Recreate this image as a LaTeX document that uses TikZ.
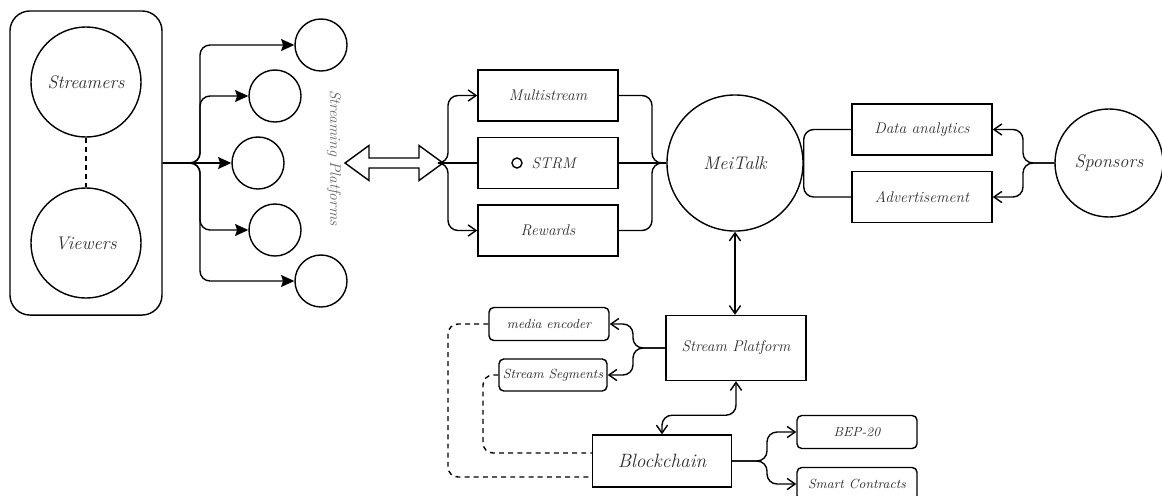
\documentclass[tikz,border=0pt]{standalone}
\usepackage{fontspec}
\usepackage{tikz}
\usetikzlibrary{positioning}
\usetikzlibrary{calc}
\usetikzlibrary{arrows.meta}

\begin{document}
\begin{tikzpicture}[x=0.025cm, y=-0.025cm, line width=1pt,
		every node/.style = {text=black!82},
		groupbox/.style = {draw, rectangle, rounded corners=0.5cm, minimum width=3.8cm, minimum height=7.6cm},
		bigcirc/.style = {draw, circle, inner sep=0pt, minimum size=2.75cm, font=\fontsize{13}{15}\selectfont\itshape},
		platcirc/.style = {draw, circle, inner sep=0pt, minimum size=1.3cm},
		boxnode/.style = {draw, rectangle, inner sep=0pt, minimum width=3.5cm, minimum height=1.275cm, font=\fontsize{11}{13}\selectfont\itshape},
		tagnode/.style = {draw, rectangle, rounded corners=0.12cm, inner sep=0pt, minimum width=3cm, minimum height=0.825cm, font=\fontsize{9.4}{11}\selectfont\itshape},
		fanline/.style = {-{Stealth[length=3.3mm, width=3mm, inset=0.5mm]}, rounded corners=0.25cm},
		flowline/.style = {-{Straight Barb[length=2mm, width=2.8mm]}, rounded corners=0.25cm},
		twoway/.style = {{Straight Barb[length=2mm, width=2.8mm]}-{Straight Barb[length=2mm, width=2.8mm]}, rounded corners=0.25cm},
		joinline/.style = {rounded corners=0.25cm},
		dashline/.style = {dash pattern=on 3.5pt off 3pt, rounded corners=0.25cm}]
		\useasboundingbox (0,0) rectangle (1162,495);
		% users and the platforms
		\node[groupbox] (users) at (86,163) {};
		\node[bigcirc] (streamers) at (86,82) {Streamers};
		\node[bigcirc] (viewers) at (86,243) {Viewers};
		\draw[dashline] (streamers) -- (viewers);
		\foreach \n/\px/\py in {1/321/45, 2/275/96, 3/258/163, 4/275/230, 5/321/281}
			\node[platcirc] (p\n) at (\px,\py) {};
		\foreach \n in {1,2,4,5}
			\draw[fanline] (users.east) -- (200,163) |- (p\n.west);
		\draw[fanline] (users.east) -- (p3.west);
		\node[rotate=-90, text=black!60, font=\fontsize{11}{13}\selectfont\itshape] (platlabel) at (334,158) {Streaming Platforms};
		% hollow double arrow
		\coordinate (la) at (345,163);
		\coordinate (ra) at (443,163);
		\draw[fill=white] (la) -- ++(24,-17.5) -- ++(0,12.5) -- ++(50,0) -- ++(0,-12.5) -- (ra)
			-- ++(-24,17.5) -- ++(0,-12.5) -- ++(-50,0) -- ++(0,12.5) -- cycle;
		% token boxes
		\node[boxnode] (multi) at (548,95.5) {Multistream};
		\node[boxnode] (strm) at (548,163) {\hspace{8pt}STRM};
		\node[boxnode] (rewards) at (548,230.5) {Rewards};
		\node[draw, circle, inner sep=0pt, minimum size=0.25cm] (coin) at (517,163) {};
		\draw[flowline] (ra) -- (448,163) |- (multi.west);
		\draw[flowline] (ra) -- (448,163) |- (rewards.west);
		\draw (ra) -- (strm.west);
		% MeiTalk and sponsors
		\node[bigcirc, minimum size=3.4cm] (meitalk) at (735,163) {MeiTalk};
		\draw[joinline] (multi.east) -| (652,163) -- (meitalk.west);
		\draw[joinline] (rewards.east) -| (652,163) -- (meitalk.west);
		\draw (strm.east) -- (meitalk.west);
		\node[boxnode] (data) at (922,129.5) {Data analytics};
		\node[boxnode] (advert) at (922,197) {Advertisement};
		\draw[joinline] (meitalk.east) |- (data.west);
		\draw[joinline] (meitalk.east) |- (advert.west);
		\node[bigcirc, minimum size=2.7cm] (sponsors) at (1109,163) {Sponsors};
		\draw[flowline] (sponsors.west) -- (1023,163) |- (data.east);
		\draw[flowline] (sponsors.west) -- (1023,163) |- (advert.east);
		% stream platform and chain
		\node[boxnode, minimum height=1.625cm] (streamp) at (736,348) {Stream Platform};
		\draw[twoway] (meitalk.south) -- (streamp.north -| meitalk.south);
		\node[tagnode] (media) at (549,324) {media encoder};
		\node[tagnode, minimum width=2.7cm, minimum height=0.8cm] (segs) at (553,375) {Stream Segments};
		\draw[flowline] (streamp.west) -- (633,348) |- (media.east);
		\draw[flowline] (streamp.west) -- (633,348) |- (segs.east);
		\node[boxnode, minimum width=3.475cm, minimum height=1.3cm, font=\fontsize{13.7}{16}\selectfont\itshape] (chain) at (662,461) {Blockchain};
		\draw[twoway] (streamp.south) -- ++(0,34) -| (chain.north);
		\node[tagnode] (bep) at (857,432) {BEP-20};
		\node[tagnode] (smart) at (857,484) {Smart Contracts};
		\draw[flowline] (chain.east) -- (767,461) |- (bep.west);
		\draw[flowline] (chain.east) -- (767,461) |- (smart.west);
		\draw[dashline] (media.west) -- (448,324) |- ($(chain.west)+(0,16)$);
		\draw[dashline] (segs.west) -- (483,375) |- ($(chain.west)+(0,-8)$);
	\end{tikzpicture}
\end{document}
